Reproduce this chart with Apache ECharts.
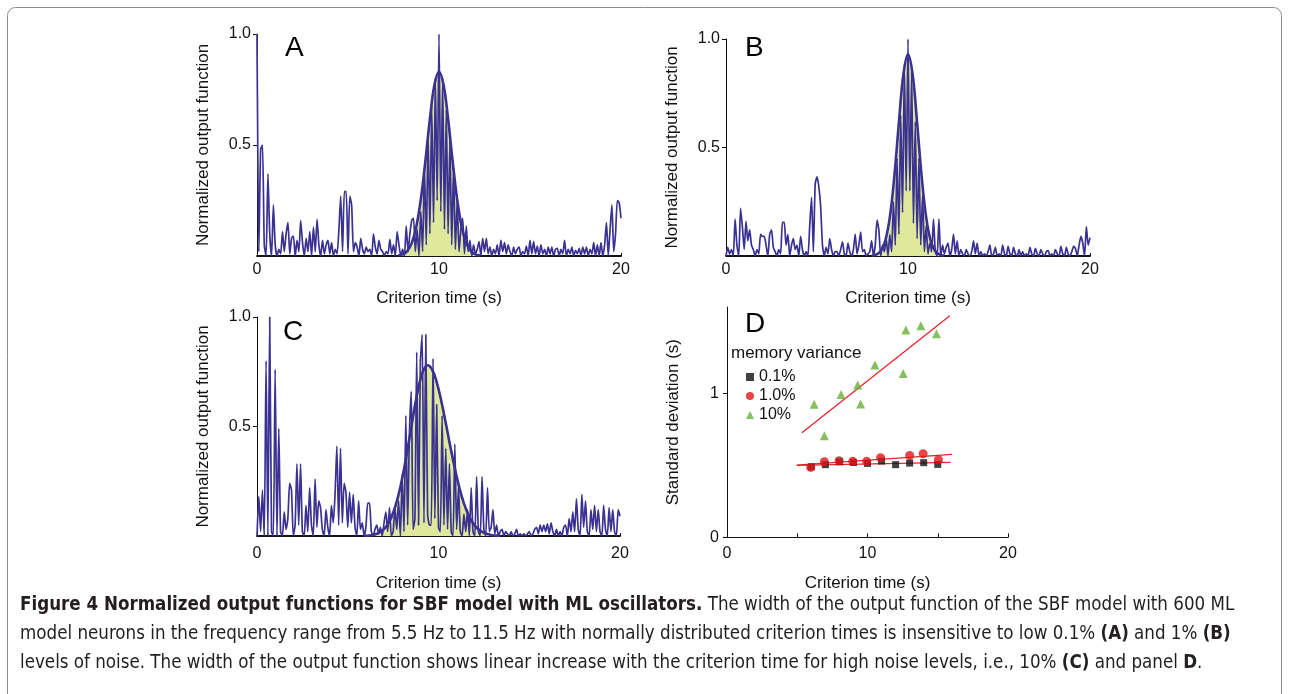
<!DOCTYPE html>
<html><head><meta charset="utf-8">
<script src="https://cdn.jsdelivr.net/npm/echarts@6/dist/echarts.min.js"></script>
<style>html,body{margin:0;padding:0;background:#fff}#c{width:1289px;height:694px}</style>
</head><body><div id="c"></div>
<script>
// ---- data ----
const T_START = 0, T_STEP = 0.1;   // sample grid of the output functions (s)
const outA = [
1.00,0.02,0.48,0.50,0.05,0.00,0.37,0.10,0.00,0.23,
0.05,0.00,0.03,0.01,0.11,0.02,0.10,0.15,0.01,0.08,
0.09,0.00,0.07,0.02,0.16,0.06,0.00,0.08,0.02,0.11,
0.00,0.13,0.02,0.165,0.05,0.00,0.07,0.01,0.05,0.07,
0.01,0.06,0.00,0.03,0.01,0.12,0.27,0.02,0.29,0.29,
0.01,0.27,0.23,0.02,0.06,0.04,0.00,0.08,0.03,0.01,
0.04,0.02,0.03,0.00,0.10,0.04,0.01,0.07,0.03,0.02,
0.00,0.02,0.01,0.075,0.01,0.05,0.00,0.11,0.05,0.00,
0.03,0.00,0.135,0.02,0.10,0.16,0.17,0.02,0.12,0.00,
0.20,0.02,0.40,0.05,0.55,0.10,0.68,0.15,0.80,0.25,
1.00,0.20,0.80,0.12,0.66,0.10,0.52,0.05,0.40,0.03,
0.25,0.02,0.12,0.17,0.01,0.135,0.02,0.07,0.00,0.05,
0.01,0.03,0.065,0.00,0.08,0.02,0.08,0.01,0.04,0.00,
0.03,0.01,0.05,0.00,0.07,0.02,0.06,0.01,0.05,0.02,
0.00,0.04,0.01,0.03,0.04,0.00,0.02,0.01,0.045,0.00,
0.07,0.01,0.065,0.01,0.045,0.00,0.05,0.01,0.03,0.00,
0.04,0.01,0.04,0.00,0.03,0.035,0.00,0.03,0.01,0.07,
0.00,0.03,0.01,0.04,0.00,0.025,0.01,0.035,0.00,0.04,
0.01,0.04,0.00,0.03,0.01,0.06,0.00,0.05,0.00,0.06,
0.00,0.05,0.15,0.00,0.12,0.23,0.02,0.10,0.25,0.24,
0.17];
const outB = [
0.00,0.04,0.01,0.03,0.00,0.17,0.05,0.00,0.22,0.135,
0.03,0.16,0.07,0.12,0.05,0.03,0.00,0.03,0.01,0.10,
0.09,0.09,0.05,0.00,0.10,0.12,0.04,0.02,0.00,0.03,
0.01,0.155,0.155,0.05,0.10,0.00,0.05,0.08,0.03,0.05,
0.00,0.09,0.03,0.00,0.02,0.00,0.14,0.27,0.02,0.33,
0.365,0.32,0.23,0.05,0.00,0.04,0.01,0.08,0.03,0.00,
0.02,0.02,0.00,0.03,0.065,0.01,0.00,0.06,0.02,0.00,
0.03,0.10,0.01,0.05,0.11,0.02,0.03,0.00,0.01,0.02,
0.07,0.00,0.05,0.165,0.12,0.00,0.05,0.02,0.08,0.00,
0.10,0.02,0.25,0.05,0.45,0.10,0.65,0.20,0.88,0.30,
1.00,0.30,0.85,0.15,0.62,0.08,0.45,0.05,0.28,0.02,
0.14,0.01,0.06,0.02,0.17,0.02,0.00,0.17,0.00,0.05,
0.01,0.04,0.06,0.00,0.03,0.10,0.01,0.07,0.00,0.03,
0.01,0.00,0.03,0.01,0.00,0.02,0.07,0.01,0.06,0.00,
0.02,0.00,0.01,0.00,0.02,0.05,0.00,0.01,0.04,0.00,
0.01,0.00,0.05,0.01,0.00,0.045,0.01,0.00,0.04,0.01,
0.00,0.03,0.00,0.02,0.00,0.01,0.00,0.04,0.01,0.00,
0.035,0.01,0.00,0.03,0.01,0.00,0.02,0.025,0.00,0.01,
0.00,0.03,0.01,0.00,0.045,0.01,0.00,0.04,0.01,0.00,
0.02,0.045,0.035,0.00,0.05,0.09,0.06,0.00,0.135,0.05,
0.085];
const outC = [
0.00,0.18,0.02,0.21,0.00,0.80,0.00,1.00,0.02,0.00,
0.76,0.00,0.49,0.02,0.00,0.11,0.03,0.08,0.24,0.21,
0.00,0.05,0.33,0.05,0.33,0.02,0.00,0.14,0.02,0.22,
0.05,0.00,0.26,0.04,0.16,0.13,0.03,0.00,0.12,0.04,
0.00,0.14,0.06,0.19,0.41,0.05,0.40,0.06,0.24,0.20,
0.04,0.20,0.06,0.19,0.04,0.00,0.16,0.03,0.06,0.00,
0.04,0.15,0.15,0.02,0.00,0.03,0.05,0.01,0.04,0.00,
0.06,0.11,0.02,0.13,0.00,0.02,0.13,0.03,0.16,0.00,
0.28,0.02,0.55,0.05,0.47,0.66,0.03,0.08,0.84,0.05,
0.79,0.92,0.06,0.92,0.10,0.05,0.05,0.81,0.08,0.60,
0.04,0.02,0.55,0.05,0.40,0.03,0.33,0.02,0.00,0.42,
0.03,0.22,0.02,0.00,0.10,0.02,0.12,0.00,0.22,0.02,
0.00,0.27,0.02,0.00,0.27,0.03,0.00,0.22,0.02,0.04,
0.12,0.01,0.05,0.00,0.02,0.03,0.00,0.02,0.01,0.00,
0.02,0.00,0.01,0.03,0.00,0.01,0.00,0.01,0.00,0.01,
0.02,0.00,0.01,0.03,0.04,0.01,0.05,0.02,0.05,0.02,
0.055,0.01,0.06,0.02,0.00,0.03,0.00,0.02,0.00,0.04,
0.05,0.00,0.08,0.02,0.11,0.02,0.17,0.03,0.00,0.19,
0.04,0.16,0.02,0.00,0.12,0.03,0.14,0.02,0.12,0.02,
0.00,0.14,0.03,0.00,0.13,0.02,0.12,0.02,0.00,0.12,
0.09];
// fitted normal curves (x in s, y normalized)
const fitA_x = [7.75,8.0,8.25,8.5,8.75,9.0,9.25,9.5,9.75,10.0,10.25,10.5,10.75,11.0,11.25,11.5,11.75,12.0,12.25];
const fitA_y = [0.002,0.007,0.022,0.058,0.131,0.254,0.426,0.617,0.771,0.83,0.771,0.617,0.426,0.254,0.131,0.058,0.022,0.007,0.002];
const fitB_x = [8.0,8.25,8.5,8.75,9.0,9.25,9.5,9.75,10.0,10.25,10.5,10.75,11.0,11.25,11.5,11.75,12.0];
const fitB_y = [0.001,0.006,0.023,0.070,0.178,0.367,0.615,0.839,0.93,0.839,0.615,0.367,0.178,0.070,0.023,0.006,0.001];
const fitC_x = [5.9,6.15,6.4,6.65,6.9,7.15,7.4,7.65,7.9,8.15,8.4,8.65,8.9,9.15,9.4,9.65,9.9,10.15,10.4,10.65,10.9,11.15,11.4,11.65,11.9,12.15,12.4,12.65,12.9,13.15,13.4];
const fitC_y = [0.001,0.002,0.005,0.012,0.024,0.047,0.085,0.143,0.224,0.328,0.448,0.571,0.679,0.753,0.78,0.760,0.703,0.618,0.516,0.409,0.308,0.220,0.149,0.096,0.059,0.034,0.019,0.010,0.005,0.002,0.001];
// panel D: standard deviation vs criterion time
const sd01_x = [6,7,8,9,10,11,12,13,14,15];
const sd01_y = [0.49,0.505,0.525,0.52,0.514,0.53,0.505,0.516,0.519,0.507];
const sd1_x = [5.96,6.93,7.98,8.95,9.94,10.93,13.0,13.96,15.05];
const sd1_y = [0.486,0.525,0.532,0.528,0.528,0.553,0.569,0.581,0.539];
const sd10_x = [6.2,6.93,8.12,9.3,9.51,10.53,12.54,12.73,13.8,14.91];
const sd10_y = [0.924,0.706,0.993,1.058,0.926,1.197,1.139,1.44,1.47,1.414];
const fit01 = [[4.97,0.500],[15.9,0.521]];
const fit1 = [[4.97,0.502],[16.02,0.576]];
const fit10 = [[5.33,0.727],[15.86,1.539]];
const legendNames = ['0.1%','1.0%','10%'];

// ---- build ----
const pairs = (xs, ys) => xs.map((x,i)=>[x, ys[i]]);
const sampled = arr => arr.map((v,i)=>[+(T_START + i*T_STEP).toFixed(2), v]);
const PURPLE = '#3a3193', FILL = '#dfe99b', RED = '#e4232b', GREEN = '#66b236';
const AX = '#111';
const FONT = "'Liberation Sans', Arial, Helvetica, sans-serif";

const grids = [
  {left:257, top:34, width:364, height:222},
  {left:726, top:39, width:364, height:217},
  {left:257, top:317, width:363, height:219},
  {left:727, top:307, width:281, height:230.4}
];
function xAx(i, labelMargin, gap){
  return {gridIndex:i, type:'value', min:0, max:20, interval:10,
    name:'Criterion time (s)', nameLocation:'middle', nameGap:gap,
    nameTextStyle:{fontFamily:FONT, fontSize:17, color:AX},
    axisLine:{lineStyle:{color:AX, width:1.8}},
    axisTick:{show:true, inside:true, length:3, lineStyle:{color:AX}},
    axisLabel:{fontFamily:FONT, fontSize:16, color:AX, margin:labelMargin},
    splitLine:{show:false}};
}
function yAx(i){
  return {gridIndex:i, type:'value', min:0, max:1, interval:0.5,
    name:'Normalized output function', nameLocation:'middle', nameGap:45,
    nameTextStyle:{fontFamily:FONT, fontSize:17, color:AX},
    axisLine:{show:true, lineStyle:{color:AX, width:1}},
    axisTick:{show:true, length:4, customValues:[0.5,1], lineStyle:{color:AX}},
    axisLabel:{fontFamily:FONT, fontSize:16, color:AX, margin:6, customValues:[0.5,1], formatter:v=>v.toFixed(1)},
    splitLine:{show:false}};
}
const xAxes = [xAx(0,6,34), xAx(1,6,34), xAx(2,10,39), {
  gridIndex:3, type:'value', min:0, max:20, interval:5,
  name:'Criterion time (s)', nameLocation:'middle', nameGap:37,
  nameTextStyle:{fontFamily:FONT, fontSize:17, color:AX},
  axisLine:{lineStyle:{color:AX, width:1}},
  axisTick:{show:true, inside:true, length:4, lineStyle:{color:AX}},
  axisLabel:{fontFamily:FONT, fontSize:16, color:AX, margin:8, customValues:[0,10,20]},
  splitLine:{show:false}}];
const yAxes = [yAx(0), yAx(1), yAx(2), {
  gridIndex:3, type:'value', min:0, max:1.6,
  name:'Standard deviation (s)', nameLocation:'middle', nameGap:45,
  nameTextStyle:{fontFamily:FONT, fontSize:17, color:AX},
  axisLine:{show:true, lineStyle:{color:AX, width:1}},
  axisTick:{show:true, length:4, customValues:[0,1], lineStyle:{color:AX}},
  axisLabel:{fontFamily:FONT, fontSize:16, color:AX, margin:8, customValues:[0,1]},
  splitLine:{show:false}}];

const series = [];
[[outA, fitA_x, fitA_y],[outB, fitB_x, fitB_y],[outC, fitC_x, fitC_y]].forEach(([out, fx, fy], i)=>{
  const fit = pairs(fx, fy);
  series.push({type:'line', xAxisIndex:i, yAxisIndex:i, data:fit, smooth:0.4, symbol:'none', z:1,
    lineStyle:{width:0}, areaStyle:{color:FILL, opacity:1}, silent:true});
  series.push({type:'line', xAxisIndex:i, yAxisIndex:i, data:sampled(out), smooth:0.2, symbol:'none', z:2, clip:true,
    lineStyle:{color:PURPLE, width:1.7}, silent:true});
  series.push({type:'line', xAxisIndex:i, yAxisIndex:i, data:fit, smooth:0.4, symbol:'none', z:3,
    lineStyle:{color:PURPLE, width:2.6}, silent:true});
});
series.push({type:'line', xAxisIndex:3, yAxisIndex:3, data:fit10, symbol:'none', lineStyle:{color:RED, width:1.3}, z:2, silent:true});
series.push({type:'line', xAxisIndex:3, yAxisIndex:3, data:fit1, symbol:'none', lineStyle:{color:RED, width:1.3}, z:2, silent:true});
series.push({type:'line', xAxisIndex:3, yAxisIndex:3, data:fit01, symbol:'none', lineStyle:{color:RED, width:1.3}, z:2, silent:true});
series.push({name:legendNames[0], type:'scatter', xAxisIndex:3, yAxisIndex:3, data:pairs(sd01_x, sd01_y), symbol:'rect', symbolSize:7, itemStyle:{color:'#111'}, z:3});
series.push({name:legendNames[1], type:'scatter', xAxisIndex:3, yAxisIndex:3, data:pairs(sd1_x, sd1_y), symbol:'circle', symbolSize:9, itemStyle:{color:'#e3161c'}, z:4});
series.push({name:legendNames[2], type:'scatter', xAxisIndex:3, yAxisIndex:3, data:pairs(sd10_x, sd10_y), symbol:'triangle', symbolSize:9, itemStyle:{color:GREEN}, z:4});

const CAP = "'Liberation Sans Narrow', 'DejaVu Sans Condensed', 'Open Sans', sans-serif";
const CAP_SIZE = 18.6;
const capRich = {b:{fontWeight:'bold', fontFamily:CAP, fontSize:CAP_SIZE, fill:'#231f20'}};
function capLine(y, text){
  return {type:'text', left:20, top:y, style:{text, fontFamily:CAP, fontSize:CAP_SIZE, fill:'#231f20', rich:capRich}};
}
const letter = (x,y,t)=>({type:'text', left:x, top:y, style:{text:t, fontFamily:FONT, fontSize:28, fill:'#000'}});

const chart = echarts.init(document.getElementById('c'), null, {renderer:'canvas'});
chart.setOption({
  animation:false,
  backgroundColor:'#fff',
  grid: grids,
  xAxis: xAxes,
  yAxis: yAxes,
  legend:{data:legendNames, orient:'vertical', left:741, top:364, itemWidth:8, itemHeight:8, itemGap:3,
    selectedMode:false, textStyle:{fontFamily:FONT, fontSize:16, color:'#111'}},
  series,
  graphic:[
    {type:'rect', shape:{x:7.5, y:7.5, width:1274, height:760, r:8}, style:{fill:'none', stroke:'#8c8c8c', lineWidth:1}},
    letter(285,34,'A'), letter(745,34,'B'), letter(283,318,'C'), letter(745,310,'D'),
    {type:'text', left:731, top:345, style:{text:'memory variance', fontFamily:FONT, fontSize:17, fill:'#111'}},
    capLine(596, '{b|Figure 4 Normalized output functions for SBF model with ML oscillators.} The width of the output function of the SBF model with 600 ML'),
    capLine(625, 'model neurons in the frequency range from 5.5 Hz to 11.5 Hz with normally distributed criterion times is insensitive to low 0.1% {b|(A)} and 1% {b|(B)}'),
    capLine(654, 'levels of noise. The width of the output function shows linear increase with the criterion time for high noise levels, i.e., 10% {b|(C)} and panel {b|D}.')
  ]
});
</script></body></html>
